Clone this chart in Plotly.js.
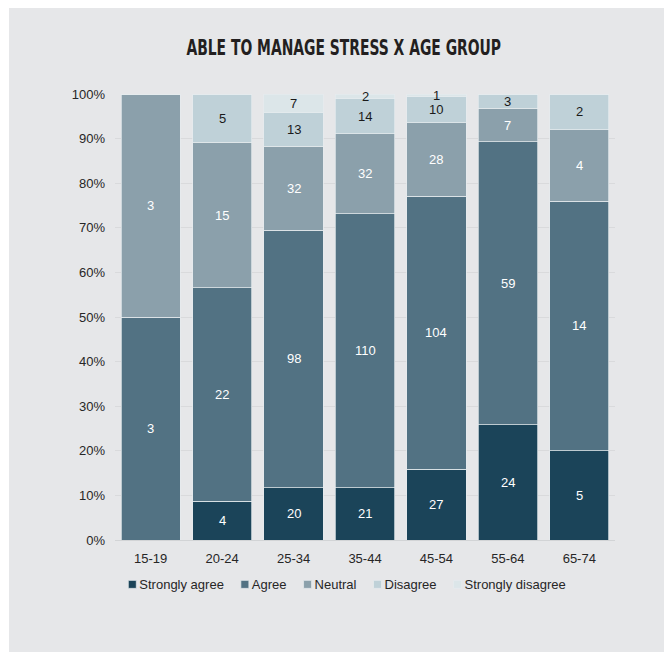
<!DOCTYPE html>
<html><head><meta charset="utf-8">
<script src="https://cdn.plot.ly/plotly-3.0.1.min.js"></script>
<style>html,body{margin:0;padding:0;background:#fff;} #chart{position:absolute;left:9px;top:8px;width:655px;height:644px;}</style>
</head><body><div id="chart"></div>
<script>
const ageGroups = ['15-19','20-24','25-34','35-44','45-54','55-64','65-74'];
const responses = ['Strongly agree','Agree','Neutral','Disagree','Strongly disagree'];
const stronglyAgree = [0,4,20,21,27,24,5];
const agree = [3,22,98,110,104,59,14];
const neutral = [3,15,32,32,28,7,4];
const disagree = [0,5,13,14,10,3,2];
const stronglyDisagree = [0,0,7,2,1,0,0];
const series = [stronglyAgree, agree, neutral, disagree, stronglyDisagree];
const colors = ['#1b4459','#527283','#8ba0ab','#bfd1d8','#dce6e9'];
const labelColors = ['#ffffff','#ffffff','#ffffff','#1a1a1a','#1a1a1a'];

const traces = series.map((vals, i) => ({
  type: 'bar', x: ageGroups, y: vals, name: responses[i],
  marker: {color: colors[i], line: {color: 'rgba(230,235,238,0.9)', width: 0.8}},
  textposition: 'none', hoverinfo: 'skip'
}));

const totals = ageGroups.map((_, j) => series.reduce((s, v) => s + v[j], 0));
const annotations = [];
ageGroups.forEach((g, j) => {
  let cum = 0;
  series.forEach((vals, i) => {
    const v = vals[j];
    if (v > 0) {
      annotations.push({
        x: g, y: (cum + v / 2) / totals[j], xref: 'x', yref: 'y',
        text: String(v), showarrow: false,
        font: {family: 'Liberation Sans, Arial, sans-serif', size: 13, color: labelColors[i]}
      });
    }
    cum += v;
  });
});

const layout = {
  width: 655, height: 644,
  paper_bgcolor: '#e6e7e9', plot_bgcolor: '#e6e7e9',
  margin: {l: 106, r: 49, t: 86, b: 112, autoexpand: false},
  barmode: 'stack', barnorm: 'fraction', bargap: 0.17,
  title: {text: 'ABLE TO MANAGE STRESS X AGE GROUP', xref: 'container', x: 0.511, xanchor: 'center',
          yref: 'container', y: 0.938, yanchor: 'middle',
          font: {family: 'DejaVu Sans, sans-serif', size: 21, weight: 'bold', color: '#231f20'}},
  font: {family: 'Liberation Sans, Arial, sans-serif', size: 13, color: '#262626'},
  xaxis: {type: 'category', showline: true, linecolor: '#d2d4d6', linewidth: 1, ticks: '',
          ticklabelstandoff: 6, tickfont: {size: 13, color: '#262626'}, showgrid: false, zeroline: false},
  yaxis: {range: [0, 1], tickformat: '.0%', dtick: 0.1, tick0: 0, showline: false, ticks: '',
          gridcolor: '#d9dadc', gridwidth: 1, zeroline: false, ticklabelstandoff: 9,
          tickfont: {size: 13, color: '#262626'}},
  showlegend: true,
  legend: {orientation: 'h', x: 0.464, xanchor: 'center', y: -0.122, yanchor: 'middle',
           entrywidth: 70, entrywidthmode: 'pixels',
           font: {size: 13, color: '#262626'}, bgcolor: 'rgba(0,0,0,0)', traceorder: 'normal'},
  annotations: annotations
};

function parseT(s) {
  const m = /translate\(\s*([-\d.]+)[\s,]+([-\d.]+)\s*\)/.exec(s || '');
  return m ? [parseFloat(m[1]), parseFloat(m[2])] : [0, 0];
}

Plotly.newPlot('chart', traces, layout, {staticPlot: true, displayModeBar: false}).then(gd => {
  // condense title to match the narrow display face
  const title = gd.querySelector('.gtitle');
  if (title) {
    title.style.fontStretch = 'condensed';
    const bb = title.getBBox();
    const targetW = 315;
    const s = targetW / bb.width;
    const cx = bb.x + bb.width / 2;
    title.setAttribute('transform', `translate(${cx},0) scale(${s},1) translate(${-cx},0)`);
  }
  // compact legend: small squares close to their labels, single row, centered
  const leg = gd.querySelector('.legend');
  if (!leg) return;
  const sb = leg.querySelector('.scrollbox');
  if (sb) sb.removeAttribute('clip-path');
  leg.removeAttribute('clip-path');
  const items = Array.from(leg.querySelectorAll('.traces'));
  const sq = 8, gapText = 3, gapItem = 17;
  let cur = 0;
  const y0 = parseT(items[0].getAttribute('transform'))[1];
  items.forEach(g => {
    const p = g.querySelector('.legendpoints path');
    if (p) {
      p.setAttribute('d', `M${sq/2},${sq/2}H${-sq/2}V${-sq/2}H${sq/2}Z`);
      p.setAttribute('transform', `translate(${sq/2},0)`);
    }
    const t = g.querySelector('text.legendtext');
    t.setAttribute('x', sq + gapText);
    const w = t.getComputedTextLength();
    g.setAttribute('transform', `translate(${cur},${y0})`);
    cur += sq + gapText + w + gapItem;
  });
  const total = cur - gapItem;
  const ly = parseT(leg.getAttribute('transform'))[1];
  const centerX = 338;
  leg.setAttribute('transform', `translate(${centerX - total / 2},${ly})`);
});
</script></body></html>
